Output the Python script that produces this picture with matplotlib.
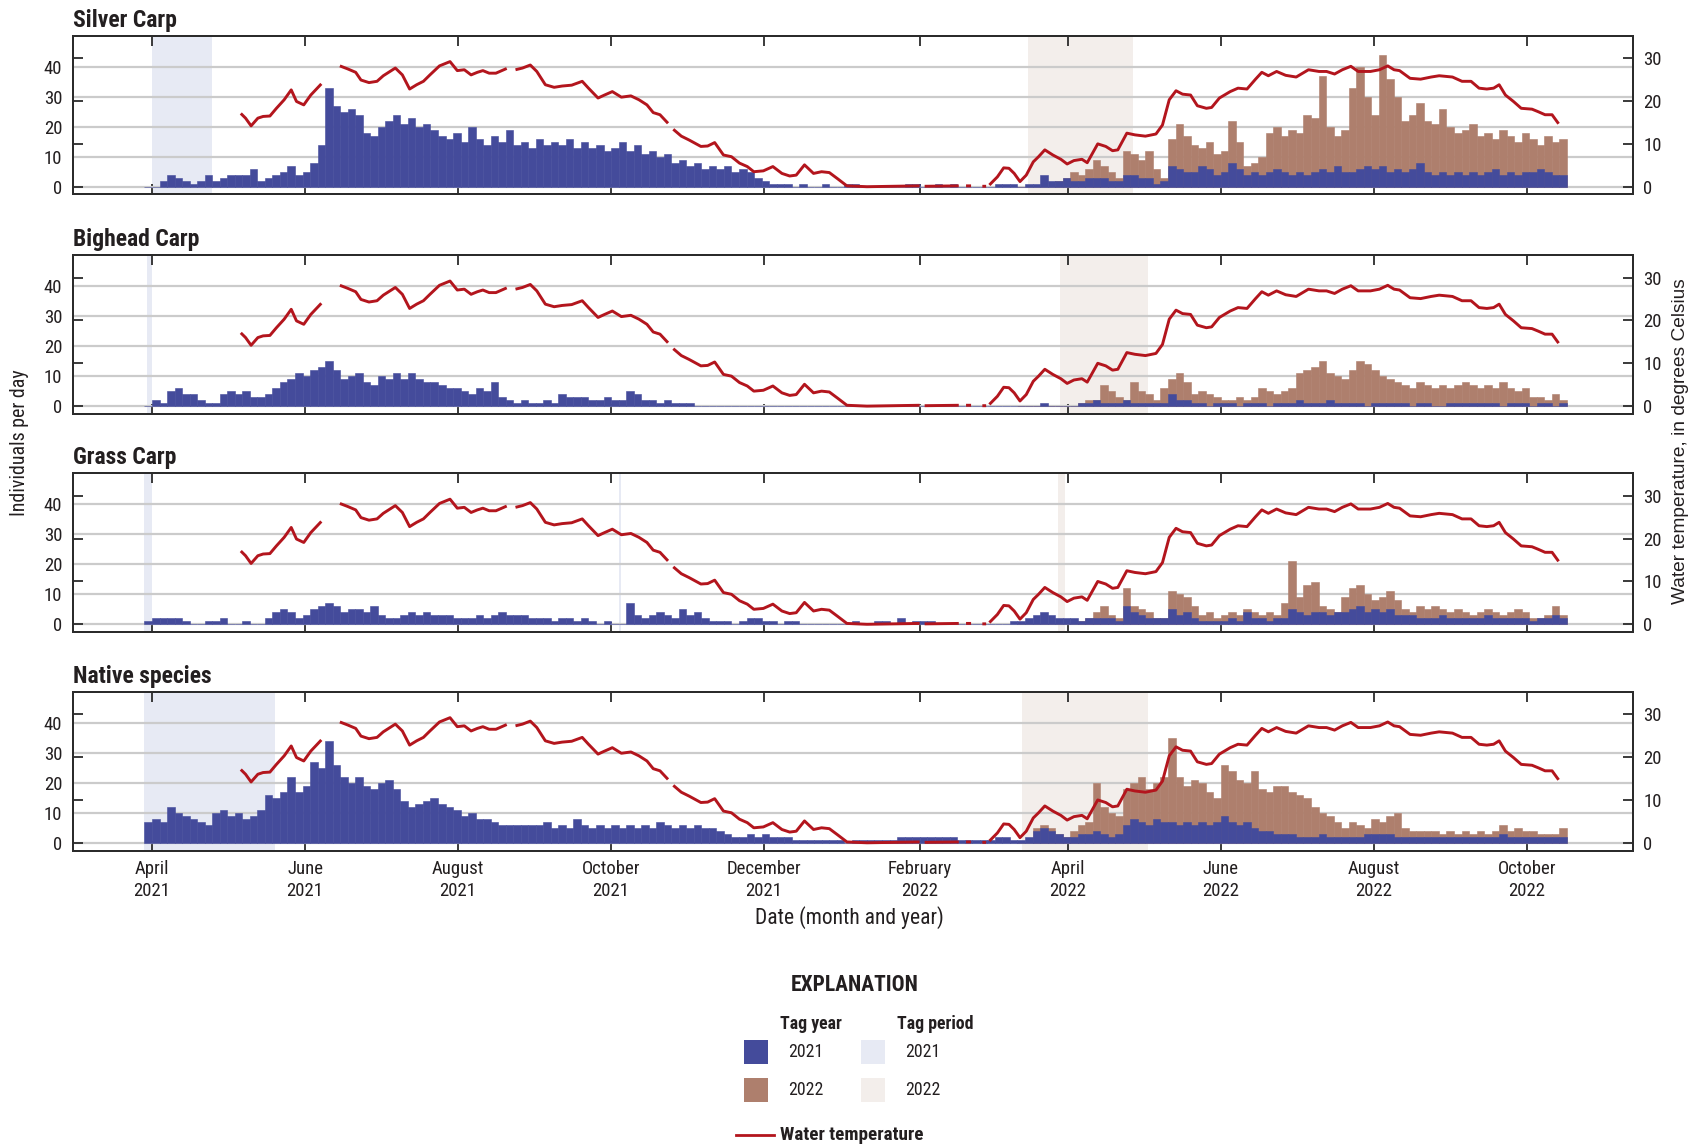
import numpy as np
import matplotlib
matplotlib.use("Agg")
import matplotlib.pyplot as plt
import matplotlib.dates as mdates
from matplotlib import font_manager
from matplotlib.patches import Rectangle
from matplotlib.lines import Line2D
from matplotlib.ticker import FuncFormatter

# ---------------- data ----------------
BIN_START = "2021-03-29"      # start of first 3-day bin
BIN_DAYS = 3
OFFSET_2022 = 116             # first bin index of the 2022-tag series

silver_2021 = [0, 0, 2, 4, 3, 2, 1, 2, 4, 2,
               3, 4, 4, 4, 6, 2, 3, 4, 5, 7, 4, 5,
               8, 14, 33, 27, 25, 26, 24, 18, 17, 20, 22, 24, 21, 23, 20, 21, 19, 17, 16, 18, 15, 20, 16, 14, 17, 15, 19, 14,
               15, 13, 16, 14, 15, 14, 16, 13, 15, 13, 14, 12, 13, 15, 12, 14, 11, 12, 10,
               11,
               8, 9, 7, 8, 6, 7, 6, 7, 5, 6, 5,
               3, 2, 1, 1, 1, 0, 1, 0, 0, 1, 0, 0, 1, 1,
               0, 0, 0, 0, 0, 0, 1, 1, 0, 0, 1, 0, 1, 0, 0, 0, 0,
               0, 1, 1, 1, 0, 1,
               1, 4, 2, 2, 3, 2, 2, 3, 3, 3, 2,
               2, 4, 4, 3, 3, 1, 2,
               7, 6, 5, 5, 7, 6, 4, 5, 8, 6, 4, 5, 4, 5, 6, 5, 4, 5, 4, 5,
               6, 5, 7, 5, 5, 6, 7, 6, 7, 5, 6, 5, 6, 8, 5, 4, 5, 4, 5, 4,
               5, 4, 5, 6, 4, 5, 4, 5, 5, 6, 5, 4, 4]
silver_2022 = [0, 0, 0, 0, 0, 2, 3, 5, 4, 6, 9, 7, 5, 3, 12, 11, 9, 12, 6, 3,
               16, 21, 17, 14, 13, 15, 11, 12, 22, 15, 7, 8, 10, 18, 20, 17, 19,
               18, 24, 23, 37, 20, 17, 19, 33, 40, 30, 24, 44, 36, 30, 22, 24, 28, 22, 21, 26,
               20, 18, 19, 21, 17, 18, 16, 19, 17, 15, 18, 16, 14, 17, 15, 16]

bighead_2021 = [0, 2, 1, 5, 6, 4, 4, 2, 1, 1, 4, 5, 4, 5, 3, 3, 4, 6, 8, 9,
                11, 10, 12, 13, 15, 12, 9, 10, 11, 8, 7, 10, 9, 11, 9, 11, 9, 8,
                8, 7, 6, 6, 5, 4, 6, 5, 8, 3, 2, 1, 2, 1, 1, 2, 1,
                4, 3, 3, 3, 2, 2, 3, 2, 2, 5, 4, 2, 2, 1, 2, 1, 1, 1]
bighead_2021 += [0] * 46
bighead_2021 += [1, 0, 0, 0, 0,
                 1, 1, 2, 1, 1, 1, 2, 1, 1, 1, 1,
                 1, 4, 2, 2,
                 1, 1, 0, 1, 1, 1, 0, 1, 1, 1, 0, 1, 1, 1, 2, 1, 1, 1, 2, 1,
                 1, 1, 1, 0, 1, 1, 1, 1, 1, 0, 1, 1, 0, 0, 1, 1, 1, 1, 1, 1,
                 1, 0, 1, 1, 1, 0, 1, 1, 0, 1]
bighead_2022 = [0] * 8 + [1, 2, 2, 7, 5, 3, 2, 8, 5, 4, 2, 6, 9, 11, 8, 4, 5, 4, 3, 2,
                          2, 3, 2, 3, 6, 5, 4, 5, 6, 11, 12, 13, 15, 11, 10, 9, 12, 15, 14, 12,
                          10, 9, 8, 7, 6, 8, 7, 6, 7, 6, 7, 8, 7, 6, 7, 6, 8, 6, 5, 6,
                          3, 3, 2, 4, 2]

grass_2021 = [1, 2, 2, 2, 2, 1, 0, 0, 1, 1, 2, 0, 0, 1, 0, 0, 2, 4, 5, 4,
              2, 3, 5, 6, 7, 6, 4, 5, 5, 4, 6, 3, 2, 2, 3, 4, 3, 4, 3, 3,
              3, 2, 2, 2, 3, 2, 3, 4, 3, 3, 3, 2, 2, 2, 1, 2, 2, 1, 2, 1,
              0, 1, 0, 0, 7, 3, 2, 3, 4, 3, 2, 5, 3, 4, 2, 1, 1, 1, 0, 1,
              2, 2, 1, 1, 0, 1, 1, 0, 0, 0, 0, 0, 0, 0, 1, 0, 0,
              1, 1, 0, 2, 0, 1, 1, 1, 0, 0, 0, 0, 0, 0, 0,
              0, 0, 0, 1, 1, 2, 3, 4, 3, 2, 2, 2, 1, 2, 2, 2, 2, 1, 6, 4,
              3, 2, 2, 2, 5, 3, 4, 2, 1, 1, 1, 1, 2, 1, 4, 2, 2, 1, 2, 2,
              5, 4, 3, 4, 4, 3, 4, 4, 5, 6, 4, 5, 4, 5, 3, 3, 3, 2, 2,
              2, 3, 2, 2, 2, 2, 2, 3, 2, 2, 2, 2, 2, 1, 2, 2, 3, 2]
grass_2022 = [0] * 8 + [1, 2, 4, 6, 3, 2, 12, 6, 5, 4, 2, 2, 11, 10, 9, 6, 3, 4, 2, 3,
                        4, 3, 5, 4, 3, 4, 3, 7, 21, 9, 13, 14, 6, 5, 4, 9, 12, 13, 10, 8,
                        9, 11, 8, 5, 4, 6, 5, 6, 5, 4, 5, 4, 3, 4, 5, 4, 3, 4, 5, 4,
                        2, 2, 3, 6, 3]

native_2021 = [7, 8, 7, 12, 10, 9, 8, 7, 6, 10, 11, 9, 10, 8, 9, 11, 16, 15, 17, 22,
               17, 19, 27, 25, 34, 26, 22, 20, 22, 19, 18, 20, 21, 18, 14, 12, 13, 14,
               15, 13, 12, 11, 9, 10, 8, 8, 7, 6, 6, 6, 6, 6,
               6, 7, 5, 6, 5, 8, 6, 5, 6, 5, 6, 5, 6, 5, 6, 5, 7,
               6, 5, 6, 5, 6, 5, 5, 4, 3, 2, 2, 3, 2,
               3, 2, 2, 2, 1, 1, 1, 1, 1, 1, 1, 0, 1, 1, 1, 1, 1,
               1, 2, 2, 2, 2, 2, 2, 2, 2, 1, 1, 1, 1, 1, 2, 2, 1, 1, 2,
               4, 5, 4, 3, 2, 2, 3, 3, 4, 3, 2, 3, 6, 8, 7, 6, 8, 7,
               7, 6, 7, 6, 7, 6, 7, 9, 7, 6, 7, 5, 4, 4, 3, 3, 3,
               2, 2, 2, 3, 2, 2, 2, 2, 2, 3, 3,
               3, 3, 2, 2, 2, 2, 2, 2, 2, 2, 2, 2, 2, 2, 2, 2, 3, 2, 2, 2, 2, 2, 2, 2, 2]
native_2022 = [0, 0, 5, 6, 5, 3, 2, 4, 6, 7, 20, 12, 10, 9, 18, 20, 22, 18, 20, 22,
               35, 22, 19, 21, 20, 17, 15, 26, 24, 21, 20, 24, 18, 17, 19, 19, 17, 16, 15, 12,
               10, 9, 7, 5, 7, 6, 5, 8, 7, 9, 10, 5, 4, 4, 4, 4, 3, 4, 3, 4,
               3, 4, 3, 4, 6, 4, 5, 4, 4, 3, 3, 3, 5]

TEMP_EPOCH = "2021-04-01"
nan = np.nan
temp_day = [35.4, 37.3, 39.5, 42.2, 44.3, 47, 49.6, 52.7, 55.5, 57.6, 60.5, 63.3, 67.5, 71,
            74.9, 78, 81.2, 83.3, 86.5, 89.7, 92.2, 97, 99.8, 102.7, 105.5, 108.2, 110.8, 114.6,
            118.8, 121.7, 124.5, 127.2, 129.7, 131.9, 134.4, 137.1, 141.4, 143,
            144.9, 147.7, 150.8, 153.4, 156.8, 160.3, 163.5, 167.3, 171.5, 174, 177.8, 180.4,
            183.5, 187.1, 190.9, 194.1, 197.3, 199.8, 202.5, 205.7, 206.7,
            207.8, 211, 214.1, 218.8, 221.5, 224.3, 227.8, 231, 234.2, 237.3, 239.9, 243.7,
            247.5, 251.1, 254.2, 256.8, 260.1, 263.7, 266.9, 270, 273.2, 277, 285, 295, 306, 307,
            308, 321.6, 323, 324.5, 326.5, 328, 331, 332.5, 333.2,
            333.8, 337, 339.5, 341.6, 343.7, 346, 348.5, 351.3, 353.4, 355.9, 359.1, 362.3,
            364.8, 367.5, 370.7, 372.8, 377, 380.2, 382.9, 385, 388.6, 391.8, 396, 400.2,
            402.8, 405.5, 408.2, 410.8, 414, 416.7, 420.3, 422.4, 425.5, 429.8, 432.9, 436.5,
            439.9, 442.4, 445, 448.3, 451.9, 456.1, 461, 465.2, 468.2, 471.4, 474.5, 477.9,
            480.8, 485.7, 489.3, 492.6, 495.1, 497.3, 501.5, 505.7, 509.9, 513.1, 518.4,
            522.2, 525.8, 529, 532.1, 534.8, 537, 539.5, 542.7, 545.8, 550.1, 552.6, 555.3,
            558.1, 560.7]
temp_c = [17.1, 16.0, 14.2, 16.0, 16.4, 16.5, 18.3, 20.3, 22.6, 19.9, 19.1, 21.4, 24.0, nan,
          28.2, 27.5, 26.7, 24.9, 24.3, 24.6, 25.9, 27.7, 26.1, 22.8, 23.8, 24.6, 26.1, 28.2,
          29.2, 27.1, 27.3, 26.1, 26.7, 27.1, 26.5, 26.5, 27.6, nan,
          27.3, 27.7, 28.4, 26.9, 23.8, 23.2, 23.5, 23.7, 24.6, 23.0, 20.7, 21.4,
          22.2, 20.9, 21.2, 20.3, 19.1, 17.3, 16.8, 14.8, nan,
          13.4, 11.8, 10.9, 9.4, 9.5, 10.3, 7.4, 7.0, 5.5, 4.7, 3.5, 3.7,
          4.7, 3.1, 2.5, 2.7, 5.1, 3.1, 3.5, 3.3, 1.9, 0.2, 0.0, 0.1, 0.2, nan,
          0.1, 0.2, nan, 0.2, 0.2, nan, 0.1, 0.1, nan,
          0.4, 2.3, 4.4, 4.3, 3.1, 1.2, 2.7, 5.8, 7.0, 8.6, 7.4, 6.4,
          5.3, 6.1, 6.4, 5.6, 10.0, 9.4, 8.4, 8.6, 12.5, 12.1, 11.8, 12.3,
          14.4, 20.3, 22.4, 21.6, 21.4, 18.9, 18.3, 18.5, 20.7, 22.2, 23.0, 22.8,
          25.1, 26.7, 25.9, 26.9, 26.0, 25.6, 27.3, 26.9, 26.9, 26.3, 27.3, 28.1,
          26.9, 26.9, 27.3, 28.2, 27.3, 27.1, 25.3, 25.1, 25.6, 25.9, 25.6,
          24.6, 24.6, 23.0, 22.8, 23.0, 23.8, 21.4, 19.9, 18.3, 18.1, 17.5, 16.8,
          16.8, 14.7]

panel_titles = ["Silver Carp", "Bighead Carp", "Grass Carp", "Native species"]
series_2021 = [silver_2021, bighead_2021, grass_2021, native_2021]
series_2022 = [silver_2022, bighead_2022, grass_2022, native_2022]
# tag periods (start, end) per panel
tag_2021 = [[("2021-04-01", "2021-04-25")],
            [("2021-03-30", "2021-04-01")],
            [("2021-03-29", "2021-04-01"), ("2021-10-04", "2021-10-05")],
            [("2021-03-29", "2021-05-20")]]
tag_2022 = [[("2022-03-16", "2022-04-27")],
            [("2022-03-29", "2022-05-03")],
            [("2022-03-28", "2022-03-31")],
            [("2022-03-14", "2022-05-03")]]
count_ticks = [0, 10, 20, 30, 40]
temp_ticks = [0, 10, 20, 30]

# ---------------- fonts ----------------
def _stretch_val(s):
    if isinstance(s, (int, float)):
        return s
    table = {"ultra-condensed": 100, "extra-condensed": 200, "condensed": 300,
             "semi-condensed": 400, "normal": 500}
    return table.get(str(s), 500)

def pick_narrow():
    fl = font_manager.fontManager.ttflist
    names = {f.name for f in fl}
    for n in ["Liberation Sans Narrow", "Arial Narrow", "Roboto Condensed",
              "Open Sans Condensed", "Noto Sans Condensed", "Noto Sans Display Condensed"]:
        if n in names:
            return n, "normal"
    for fam in ["Liberation Sans", "Noto Sans", "Open Sans", "Roboto", "DejaVu Sans", "Lato", "Inter"]:
        for f in fl:
            if f.name == fam and _stretch_val(f.stretch) <= 400:
                return fam, "condensed"
    for n in ["Liberation Sans", "Roboto", "DejaVu Sans"]:
        if n in names:
            return n, "normal"
    return "DejaVu Sans", "normal"

NARROW, STRETCH = pick_narrow()
names_all = {f.name for f in font_manager.fontManager.ttflist}
WIDE = "Liberation Sans" if "Liberation Sans" in names_all else "DejaVu Sans"
plt.rcParams["font.family"] = [NARROW, "DejaVu Sans"]
plt.rcParams["font.stretch"] = STRETCH

C_BLUE = "#444b9b"
C_BROWN = "#ae7f6d"
C_TAG21 = "#e7eaf4"
C_TAG22 = "#f3eeeb"
C_TEMP = "#b3151d"
C_GRID = "#cbcbcb"
C_SPINE = "#2b2b2b"
C_TEXT = "#231f20"

fig = plt.figure(figsize=(17.03, 11.47), dpi=100)
left, width, height = 0.0427, 0.9164, 0.1382
bottoms = [0.8305, 0.6392, 0.4490, 0.2585]

bin0 = mdates.date2num(np.datetime64(BIN_START))
epoch = mdates.date2num(np.datetime64(TEMP_EPOCH))
xlim = (epoch - 31.6, epoch + 590.5)
tx = epoch + np.array(temp_day)

def month_fmt(x, pos=None):
    d = mdates.num2date(x)
    return d.strftime("%B") + "\n" + d.strftime("%Y")

axes = []
for k in range(4):
    ax = fig.add_axes([left, bottoms[k], width, height])
    ax2 = ax.twinx()
    axes.append(ax)
    for s, e in tag_2021[k]:
        ax.axvspan(mdates.date2num(np.datetime64(s)), mdates.date2num(np.datetime64(e)),
                   color=C_TAG21, lw=0, zorder=0.2)
    for s, e in tag_2022[k]:
        ax.axvspan(mdates.date2num(np.datetime64(s)), mdates.date2num(np.datetime64(e)),
                   color=C_TAG22, lw=0, zorder=0.2)
    v22 = np.array(series_2022[k], float)
    x22 = bin0 + BIN_DAYS * (OFFSET_2022 + np.arange(len(v22)))
    ax.bar(x22, v22, width=BIN_DAYS, align="edge", color=C_BROWN, edgecolor=C_BROWN,
           linewidth=0.4, zorder=2)
    v21 = np.array(series_2021[k], float)
    x21 = bin0 + BIN_DAYS * np.arange(len(v21))
    ax.bar(x21, v21, width=BIN_DAYS, align="edge", color=C_BLUE, edgecolor=C_BLUE,
           linewidth=0.4, zorder=3)
    ax.set_ylim(-2.6, 50.2)
    ax.set_yticks(count_ticks)
    ax.set_axisbelow(True)
    ax.yaxis.grid(True, color=C_GRID, lw=1.6, zorder=0.5)
    ax.tick_params(axis="y", length=0, pad=7.5, labelsize=13.5, labelcolor=C_TEXT)
    ax.set_xlim(*xlim)
    ax.xaxis_date()
    ax.xaxis.set_major_locator(mdates.MonthLocator(bymonth=[2, 4, 6, 8, 10, 12]))
    ax.xaxis.set_major_formatter(FuncFormatter(month_fmt))
    ax.tick_params(axis="x", direction="in", length=7, width=1.3, top=True, bottom=True,
                   color=C_SPINE, labelbottom=(k == 3), pad=7, labelsize=13.5,
                   labelcolor=C_TEXT)
    ax2.plot(tx, temp_c, color=C_TEMP, lw=2.1, solid_capstyle="butt", zorder=4)
    ax2.set_ylim(-1.8, 35.2)
    ax2.set_yticks(temp_ticks)
    ax2.yaxis.set_ticks_position("both")
    ax2.tick_params(axis="y", direction="in", length=7, width=1.3, color=C_SPINE,
                    left=True, right=True, labelleft=False, labelright=True,
                    pad=7, labelsize=13.5, labelcolor=C_TEXT)
    ax2.set_xlim(*xlim)
    for a in (ax, ax2):
        for sp in a.spines.values():
            sp.set_linewidth(1.4)
            sp.set_color(C_SPINE)
    ax.text(0.0, 1.058, panel_titles[k], transform=ax.transAxes, ha="left",
            va="baseline", fontsize=17, fontweight="bold", color=C_TEXT)

for lbl in axes[3].get_xticklabels():
    lbl.set_linespacing(1.25)

fig.text(0.0115, 0.614, "Individuals per day", rotation=90, ha="center", va="center",
         fontsize=14.3, color=C_TEXT)
fig.text(0.987, 0.6155, "Water temperature, in degrees Celsius", rotation=90,
         ha="center", va="center", fontsize=13.8, color=C_TEXT,
         family=[WIDE, "DejaVu Sans"], stretch="normal")
fig.text(0.4987, 0.200, "Date (month and year)", ha="center", va="center",
         fontsize=15.5, color=C_TEXT)

# ---------------- explanation ----------------
fig.text(0.502, 0.1412, "EXPLANATION", ha="center", va="center", fontsize=15.5,
         fontweight="bold", color=C_TEXT)
fig.text(0.4763, 0.1072, "Tag year", ha="center", va="center", fontsize=12.8,
         fontweight="bold", color=C_TEXT)
fig.text(0.549, 0.1072, "Tag period", ha="center", va="center", fontsize=12.8,
         fontweight="bold", color=C_TEXT)
legend_rows = [("2021", C_BLUE, C_TAG21, 0.0826), ("2022", C_BROWN, C_TAG22, 0.0494)]
for label, c_year, c_period, yc in legend_rows:
    fig.add_artist(Rectangle((0.4368, yc - 0.0104), 0.0141, 0.0208,
                             transform=fig.transFigure, color=c_year, lw=0))
    fig.text(0.4732, yc, label, ha="center", va="center", fontsize=12.8, color=C_TEXT)
    fig.add_artist(Rectangle((0.5057, yc - 0.0104), 0.0141, 0.0208,
                             transform=fig.transFigure, color=c_period, lw=0))
    fig.text(0.542, yc, label, ha="center", va="center", fontsize=12.8, color=C_TEXT)
fig.add_artist(Line2D([0.4324, 0.4547], [0.0106, 0.0106], transform=fig.transFigure,
                      color=C_TEMP, lw=2.0))
fig.text(0.4578, 0.0106, "Water temperature", ha="left", va="center", fontsize=13.8,
         fontweight="bold", color=C_TEXT)

fig.savefig("out.png", dpi=100)
